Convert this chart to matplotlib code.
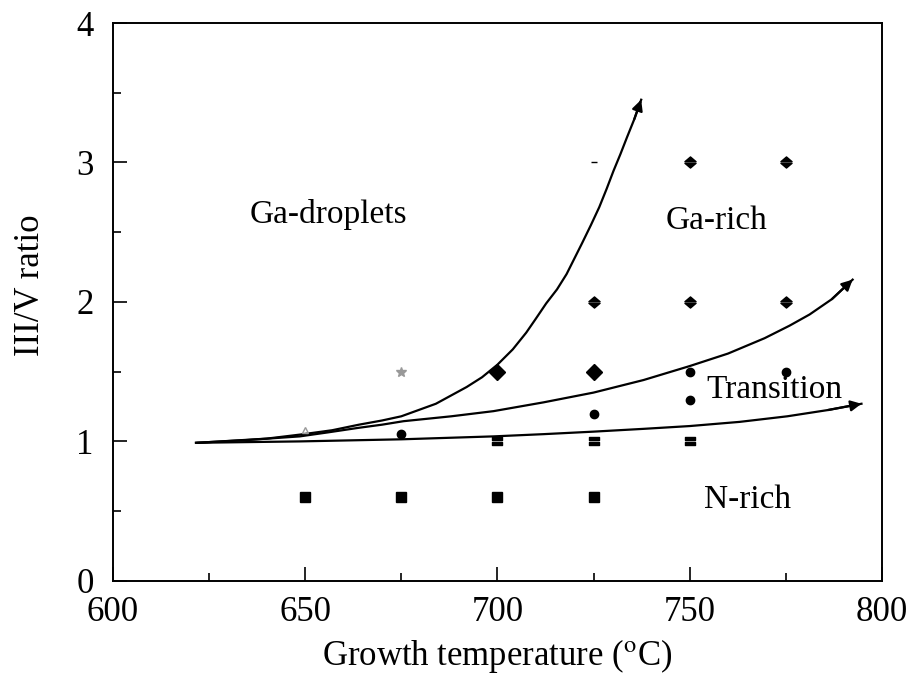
#!/usr/bin/env python3
import matplotlib
matplotlib.use("Agg")
import matplotlib.pyplot as plt
from matplotlib.path import Path
from matplotlib.ticker import MultipleLocator

# growth conditions (temperature degC, III/V ratio) by marker type
nrich_t = [650, 675, 700, 725]
nrich_r = [0.6, 0.6, 0.6, 0.6]
bar_t = [700, 725, 750]
bar_r = [1.0, 1.0, 1.0]
circle_t = [675, 725, 750, 750, 775]
circle_r = [1.05, 1.2, 1.3, 1.5, 1.5]
diamond_t = [700, 725]
diamond_r = [1.5, 1.5]
garich_t = [725, 750, 775, 750, 775]
garich_r = [2.0, 2.0, 2.0, 3.0, 3.0]
star_t = [675]
star_r = [1.5]
tri_t = [650]
tri_r = [1.08]
dash_t = [725]
dash_r = [3.0]

# boundary curves
steep_t = [622, 640, 649, 657, 664, 670, 675, 680, 684, 688, 692, 696, 700,
           704, 707.5, 710, 712.7, 715.5, 718, 720, 722, 724.3, 726.5, 728.4,
           730.2, 732, 733.7, 735.6, 737.4]
steep_r = [0.99, 1.02, 1.05, 1.08, 1.12, 1.15, 1.18, 1.23, 1.27, 1.33, 1.39,
           1.46, 1.55, 1.66, 1.78, 1.88, 1.99, 2.09, 2.20, 2.31, 2.42, 2.55,
           2.68, 2.81, 2.94, 3.06, 3.18, 3.31, 3.45]
mid_t = [621.6, 635, 648.6, 656, 663.8, 670, 675.6, 688, 699, 712, 725, 738,
         750, 760, 769.5, 776, 781.2, 787, 792.4]
mid_r = [0.99, 1.01, 1.036, 1.065, 1.097, 1.12, 1.145, 1.18, 1.217, 1.28,
         1.35, 1.44, 1.54, 1.63, 1.74, 1.83, 1.91, 2.02, 2.16]
low_t = [621.6, 635, 648.6, 675, 699, 712, 725, 738, 750, 763, 775.4, 786, 794.7]
low_r = [0.99, 0.995, 1.0, 1.015, 1.036, 1.052, 1.07, 1.09, 1.11, 1.14, 1.18,
         1.225, 1.27]

labels = ["Ga-droplets", "Ga-rich", "Transition", "N-rich"]
label_t = [656, 757, 772, 765]
label_r = [2.63, 2.58, 1.37, 0.58]

plt.rcParams["font.family"] = ["Liberation Serif", "DejaVu Serif"]
plt.rcParams["mathtext.fontset"] = "stix"

# double triangle marker
updown = Path(
    [(-1, 0.15), (1, 0.15), (0, 1), (-1, 0.15),
     (-1, -0.15), (1, -0.15), (0, -1), (-1, -0.15)],
    [Path.MOVETO, Path.LINETO, Path.LINETO, Path.CLOSEPOLY,
     Path.MOVETO, Path.LINETO, Path.LINETO, Path.CLOSEPOLY],
)
dbar = Path(
    [(-1, 0.2), (1, 0.2), (1, 0.9), (-1, 0.9), (-1, 0.2),
     (-1, -0.9), (1, -0.9), (1, -0.2), (-1, -0.2), (-1, -0.9)],
    [Path.MOVETO, Path.LINETO, Path.LINETO, Path.LINETO, Path.CLOSEPOLY,
     Path.MOVETO, Path.LINETO, Path.LINETO, Path.LINETO, Path.CLOSEPOLY],
)

fig = plt.figure(figsize=(9.11, 6.77), dpi=100)
ax = fig.add_axes([0.124, 0.142, 0.844, 0.824])

for xs, ys in [(steep_t, steep_r), (mid_t, mid_r), (low_t, low_r)]:
    ax.plot(xs, ys, color="black", lw=1.6, solid_joinstyle="round")
    ax.annotate("", xy=(xs[-1], ys[-1]), xytext=(xs[-2], ys[-2]),
                arrowprops=dict(arrowstyle="-|>", color="black", lw=1.6,
                                mutation_scale=16, shrinkA=0, shrinkB=0))

ax.plot(nrich_t, nrich_r, "s", color="black", ms=7)
ax.plot(bar_t, bar_r, marker=dbar, ls="none", color="black", ms=7)
ax.plot(circle_t, circle_r, "o", color="black", ms=6)
ax.plot(diamond_t, diamond_r, "D", color="black", ms=8)
ax.plot(garich_t, garich_r, marker=updown, ls="none", color="black", ms=8)
ax.plot(star_t, star_r, "*", color="#999999", ms=7)
ax.plot(tri_t, tri_r, "^", mfc="none", mec="#999999", ms=5)
ax.plot(dash_t, dash_r, "_", color="black", ms=5)

for txt, x, y in zip(labels, label_t, label_r):
    ax.text(x, y, txt, fontsize=24, ha="center", va="center")

ax.set_xlim(600, 800)
ax.set_ylim(0, 4)
ax.xaxis.set_major_locator(MultipleLocator(50))
ax.xaxis.set_minor_locator(MultipleLocator(25))
ax.yaxis.set_major_locator(MultipleLocator(1))
ax.yaxis.set_minor_locator(MultipleLocator(0.5))
ax.tick_params(which="both", direction="in", labelsize=25, width=1.2)
ax.tick_params(which="major", length=10)
ax.tick_params(which="minor", length=6)
ax.tick_params(axis="x", pad=11)
ax.tick_params(axis="y", pad=14)
for s in ax.spines.values():
    s.set_linewidth(1.4)

ax.set_xlabel("Growth temperature ($^{\\rm o}$C)", fontsize=25, labelpad=6)
ax.set_ylabel("III/V ratio", fontsize=25)
ax.yaxis.set_label_coords(-0.086, 0.53)

fig.savefig("out.png", dpi=100)
